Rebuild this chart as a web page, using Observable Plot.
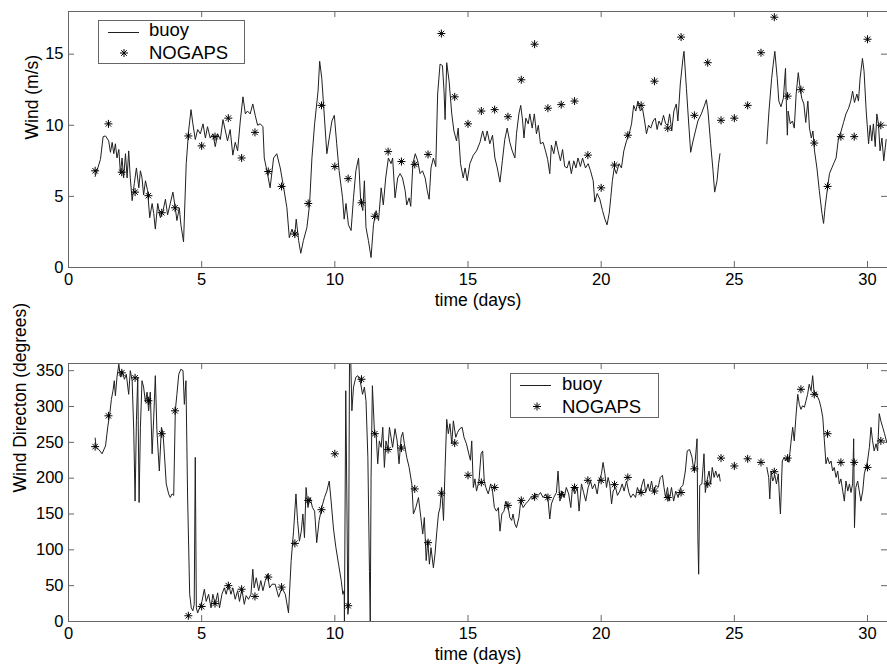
<!DOCTYPE html>
<html><head><meta charset="utf-8">
<script src="https://cdn.jsdelivr.net/npm/d3@7"></script>
<script src="https://cdn.jsdelivr.net/npm/@observablehq/plot@0.6"></script>
<style>
body{margin:0;background:#fff;}
#wrap{position:relative;width:887px;height:670px;overflow:hidden;font-family:"Liberation Sans",Arial,sans-serif;background:#fff;}
#wrap svg{display:block;}
.legend{position:absolute;overflow:visible;}
</style></head><body><div id="wrap"></div>
<script>
// ---- data ----
const xTicks = [0, 5, 10, 15, 20, 25, 30];
const speedTicks = [0, 5, 10, 15];
const dirTicks = [0, 50, 100, 150, 200, 250, 300, 350];

const nogapsT = [1,1.5,2,2.5,3,3.5,4,4.5,5,5.5,6,6.5,7,7.5,8,8.5,9,9.5,10,10.5,11,11.5,12,12.5,13,13.5,14,14.5,15,15.5,16,16.5,17,17.5,18,18.5,19,19.5,20,20.5,21,21.5,22,22.5,23,23.5,24,24.5,25,25.5,26,26.5,27,27.5,28,28.5,29,29.5,30,30.5];
const nogapsSpeed = [6.8,10.1,6.7,5.3,5.05,3.85,4.2,9.25,8.55,9.2,10.5,7.7,9.5,6.75,5.7,2.35,4.5,11.4,7.1,6.25,4.55,3.6,8.15,7.45,7.25,7.95,16.45,12.0,10.1,11.0,11.1,10.6,13.2,15.7,11.2,11.45,11.7,7.9,5.6,7.2,9.3,11.4,13.1,9.8,16.2,10.7,14.4,10.35,10.5,11.4,15.1,17.6,12.05,12.5,8.75,5.7,9.2,9.2,16.05,10.0];
const nogapsDir = [244,287,347,340,308,262,294,8,21,25,50,45,35,62,48,109,169,156,234,22,338,262,240,242,185,110,179,249,204,194,187,162,169,174,173,177,187,197,197,191,201,180,182,173,180,213,192,228,217,227,222,209,228,324,317,262,222,222,215,252];

const speedT = [1.0,1.1,1.2,1.3,1.39,1.51,1.575,1.64,1.7,1.76,1.82,1.89,1.95,2.01,2.07,2.14,2.2,2.26,2.32,2.39,2.47,2.55,2.64,2.7,2.76,2.82,2.89,2.97,3.05,3.14,3.2,3.26,3.35,3.45,3.55,3.64,3.72,3.82,3.92,4.01,4.07,4.16,4.22,4.32,4.42,4.51,4.6,4.67,4.76,4.85,4.95,5.05,5.14,5.22,5.32,5.42,5.51,5.6,5.7,5.8,5.89,5.97,6.07,6.17,6.26,6.35,6.45,6.55,6.64,6.72,6.82,6.92,7.01,7.1,7.2,7.3,7.35,7.45,7.57,7.7,7.82,7.95,8.07,8.2,8.29,8.39,8.49,8.55,8.64,8.72,8.82,8.95,9.05,9.14,9.24,9.37,9.43,9.51,9.61,9.7,9.79,9.89,9.98,10.07,10.16,10.29,10.35,10.42,10.51,10.61,10.7,10.79,10.89,10.97,11.05,11.11,11.17,11.26,11.36,11.45,11.55,11.64,11.74,11.82,11.91,12.01,12.11,12.17,12.26,12.36,12.45,12.54,12.64,12.7,12.79,12.85,12.93,13.02,13.11,13.2,13.29,13.39,13.47,13.54,13.61,13.7,13.79,13.86,13.95,14.04,14.1,14.14,14.2,14.29,14.39,14.47,14.57,14.63,14.72,14.82,14.89,14.97,15.07,15.2,15.32,15.45,15.55,15.64,15.72,15.82,15.92,16.01,16.1,16.2,16.29,16.38,16.47,16.57,16.66,16.76,16.82,16.91,16.98,17.05,17.1,17.17,17.26,17.32,17.41,17.49,17.57,17.64,17.72,17.82,17.91,17.99,18.07,18.13,18.22,18.3,18.38,18.47,18.55,18.63,18.72,18.8,18.88,18.97,19.05,19.13,19.22,19.3,19.41,19.51,19.6,19.7,19.76,19.85,19.95,20.05,20.14,20.22,20.3,20.36,20.42,20.49,20.57,20.67,20.76,20.85,20.95,21.05,21.14,21.22,21.3,21.38,21.47,21.55,21.63,21.7,21.78,21.86,21.95,22.03,22.1,22.17,22.25,22.34,22.42,22.5,22.57,22.65,22.73,22.82,22.88,22.97,23.07,23.11,23.2,23.28,23.36,23.45,23.54,23.63,23.76,23.86,23.95,24.01,24.11,24.2,24.26,24.35,24.41,24.46,25.3,26.22,26.3,26.4,26.46,26.52,26.61,26.67,26.75,26.84,26.92,26.96,26.99,27.02,27.1,27.18,27.25,27.32,27.4,27.47,27.53,27.61,27.68,27.76,27.82,27.89,27.95,28.01,28.1,28.19,28.29,28.35,28.41,28.5,28.57,28.66,28.75,28.82,28.91,29.01,29.1,29.19,29.29,29.37,29.44,29.51,29.6,29.66,29.72,29.81,29.87,29.95,30.04,30.1,30.16,30.22,30.29,30.35,30.41,30.47,30.54,30.61,30.7];
const speedV = [6.4,7.0,7.6,9.2,9.25,8.9,8.1,8.8,8.0,8.7,7.7,8.3,6.6,7.7,6.3,8.0,6.3,8.2,6.3,4.7,5.9,7.0,5.6,6.8,6.3,5.1,6.1,5.4,3.5,4.5,3.8,2.7,4.5,3.5,4.0,4.8,3.7,4.5,5.3,4.2,3.3,4.2,3.0,1.8,7.3,9.6,11.1,10.1,9.0,9.7,9.4,10.1,9.1,9.9,9.1,9.4,8.5,9.4,9.0,10.4,9.6,8.9,9.7,7.9,8.8,8.2,10.3,12.0,10.8,11.0,10.8,11.5,10.7,10.0,10.1,9.9,7.7,6.8,5.6,7.7,8.0,7.0,5.7,4.2,2.1,2.7,2.2,3.4,1.9,1.0,1.9,2.8,4.4,7.7,10.1,12.4,14.5,13.3,10.5,8.0,9.1,10.3,10.7,8.7,6.8,4.9,3.4,4.5,3.0,2.6,4.9,6.8,7.7,4.7,4.0,6.1,2.8,1.9,0.7,3.0,4.0,3.3,5.6,4.4,6.3,7.7,7.3,7.7,4.9,6.3,6.6,6.3,5.4,4.4,4.9,4.3,7.3,8.0,7.5,6.6,6.8,6.3,5.4,4.8,7.0,7.7,7.1,12.2,14.3,14.2,12.4,10.4,14.4,13.1,10.8,9.6,8.9,9.8,7.3,6.3,7.0,6.1,7.3,7.9,8.2,8.8,9.6,8.9,9.6,8.7,9.3,7.7,7.0,6.0,7.5,9.0,9.8,8.8,8.2,7.7,9.4,10.8,11.4,10.3,9.1,10.5,10.1,10.8,9.8,10.8,9.4,10.0,8.7,8.8,8.2,7.6,6.6,8.6,8.0,8.9,8.2,7.5,8.3,7.1,7.0,7.5,6.6,7.5,7.0,7.7,7.1,7.7,7.0,7.3,6.8,6.1,4.6,5.2,4.8,4.0,3.4,3.0,3.8,4.9,6.1,7.0,6.6,7.3,7.0,8.2,8.9,9.4,10.1,11.4,11.0,11.7,11.0,11.2,10.3,9.4,10.0,9.8,10.3,10.5,9.7,10.3,10.0,10.7,10.1,10.0,10.8,9.6,11.0,11.5,10.3,12.9,14.7,15.2,12.6,10.3,8.1,8.9,9.6,10.3,10.8,11.3,11.8,11.0,8.7,6.8,5.3,6.1,7.3,8.0,null,8.7,11.0,13.3,14.3,15.2,13.3,11.7,11.3,11.9,14.0,11.0,9.3,11.0,10.1,10.3,9.8,12.2,13.7,12.6,11.9,11.5,10.2,11.7,9.8,9.1,9.6,8.2,7.0,5.4,3.8,3.1,4.3,5.6,6.6,7.0,7.4,7.7,9.1,9.6,10.2,10.8,11.2,11.7,12.4,11.6,12.2,11.7,13.3,14.7,13.8,11.0,8.7,10.0,8.9,10.1,8.5,10.8,10.1,8.2,9.1,7.5,9.0];

const dirT = [1.0,1.04,1.14,1.26,1.39,1.48,1.55,1.61,1.67,1.72,1.76,1.82,1.89,1.95,2.01,2.1,2.17,2.26,2.32,2.39,2.45,2.5,2.55,2.6,2.65,2.7,2.76,2.82,2.89,2.95,3.01,3.07,3.14,3.2,3.26,3.32,3.41,3.49,3.55,3.6,3.67,3.76,3.82,3.89,3.95,4.01,4.07,4.14,4.22,4.3,4.35,4.41,4.47,4.55,4.61,4.67,4.72,4.76,4.8,4.85,4.92,5.01,5.1,5.17,5.26,5.35,5.42,5.51,5.6,5.67,5.76,5.85,5.92,6.01,6.1,6.17,6.26,6.35,6.42,6.51,6.6,6.67,6.76,6.85,6.92,6.97,7.05,7.14,7.22,7.3,7.39,7.47,7.55,7.64,7.76,7.89,8.01,8.14,8.26,8.36,8.45,8.54,8.6,8.67,8.74,8.8,8.86,8.92,8.99,9.07,9.16,9.24,9.32,9.41,9.51,9.61,9.7,9.79,9.86,9.95,10.04,10.14,10.24,10.3,10.35,10.36,10.41,10.45,10.49,10.51,10.55,10.6,10.64,10.7,10.79,10.86,10.95,11.04,11.11,11.17,11.24,11.3,11.33,11.36,11.41,11.49,11.55,11.61,11.67,11.74,11.8,11.86,11.92,11.99,12.05,12.11,12.17,12.26,12.34,12.41,12.49,12.55,12.61,12.7,12.79,12.89,12.95,13.04,13.14,13.23,13.3,13.36,13.43,13.49,13.55,13.61,13.7,13.76,13.83,13.89,13.95,14.01,14.08,14.14,14.2,14.26,14.32,14.39,14.45,14.54,14.61,14.69,14.78,14.85,14.94,15.03,15.09,15.14,15.2,15.26,15.32,15.41,15.49,15.55,15.61,15.67,15.76,15.85,15.92,15.99,16.07,16.14,16.2,16.27,16.35,16.42,16.51,16.57,16.64,16.69,16.76,16.82,16.91,16.98,17.07,17.16,17.26,17.35,17.45,17.54,17.64,17.72,17.82,17.92,18.01,18.07,18.13,18.22,18.32,18.38,18.45,18.53,18.61,18.69,18.78,18.86,18.92,19.01,19.1,19.17,19.26,19.34,19.42,19.51,19.6,19.67,19.76,19.85,19.92,20.01,20.07,20.14,20.2,20.26,20.32,20.39,20.45,20.54,20.61,20.7,20.79,20.86,20.95,21.04,21.11,21.2,21.29,21.36,21.45,21.54,21.6,21.67,21.76,21.82,21.89,21.97,22.05,22.14,22.22,22.3,22.36,22.42,22.49,22.55,22.64,22.72,22.8,22.89,22.98,23.07,23.16,23.23,23.32,23.41,23.48,23.53,23.6,23.63,23.66,23.7,23.78,23.86,23.91,23.97,24.05,24.11,24.17,24.24,24.3,24.37,24.43,24.47,25.3,26.22,26.29,26.33,26.38,26.44,26.52,26.58,26.65,26.7,26.73,26.8,26.87,26.93,26.99,27.05,27.12,27.19,27.25,27.31,27.38,27.44,27.5,27.56,27.63,27.69,27.75,27.81,27.88,27.94,28.0,28.06,28.13,28.19,28.25,28.32,28.38,28.44,28.5,28.57,28.63,28.69,28.75,28.82,28.88,28.94,29.0,29.07,29.13,29.19,29.26,29.32,29.38,29.44,29.48,29.51,29.56,29.63,29.69,29.75,29.82,29.88,29.94,30.0,30.07,30.13,30.19,30.25,30.32,30.38,30.44,30.5,30.57,30.64,30.72];
const dirV = [256,243,240,234,245,273,290,310,322,336,315,341,359,341,350,338,345,317,350,336,266,168,280,341,166,271,336,327,306,320,294,320,234,285,343,266,210,271,262,234,192,178,173,178,176,294,317,345,352,350,303,336,178,38,19,15,24,229,19,12,19,28,45,28,38,19,38,24,40,19,38,47,38,52,38,47,31,43,28,45,24,36,31,38,73,47,61,43,57,43,57,66,47,52,52,34,47,38,12,85,126,178,141,112,126,150,117,187,159,173,159,154,110,141,159,173,182,196,168,129,103,80,57,38,43,0,322,178,10,19,360,360,294,327,341,343,336,317,327,308,229,70,0,201,329,262,262,220,252,243,271,215,252,240,271,257,243,269,252,220,257,264,248,229,215,192,150,159,173,145,122,145,85,113,80,103,75,94,126,150,159,187,141,215,282,262,276,248,280,257,264,269,271,257,248,234,225,252,187,199,182,196,234,238,196,187,178,192,182,159,154,159,126,150,154,168,159,145,141,150,136,131,145,168,159,164,168,173,171,178,176,180,173,178,168,143,164,173,180,210,168,182,173,187,178,159,187,178,187,154,192,180,168,187,196,185,192,178,196,206,222,206,187,201,192,164,182,187,176,182,192,182,196,180,173,178,173,187,178,192,199,180,192,182,196,180,190,187,201,204,187,173,187,168,187,168,182,173,187,190,210,238,240,229,210,224,255,117,66,190,192,234,180,196,210,192,215,201,210,201,206,196,null,215,201,171,210,196,204,192,206,168,150,224,229,224,229,222,248,271,252,285,317,303,296,301,299,308,317,331,322,343,317,320,313,308,299,285,252,220,229,220,224,210,215,201,210,192,199,182,168,196,182,192,180,192,255,131,187,196,182,168,182,206,215,224,243,271,252,238,248,238,290,280,271,262,250];

const xLabel = "time (days)";
const speedLabel = "Wind (m/s)";
const dirLabel = "Wind Directon (degrees)";
const seriesNames = ["buoy", "NOGAPS"];

// ---- drawing ----
const W = 887, ML = 68, MR = 0;
const FONT = "Liberation Sans, Arial, Helvetica, sans-serif";
const LINE = "#202020", FRAME = "#666";

function panel(o) {
  const innerH = o.height - o.mt - o.mb;
  const innerW = W - ML - MR;
  const buoy = o.t.map((t, i) => ({t, v: o.v[i]}));
  const nog = nogapsT.map((t, i) => ({t, v: o.nog[i]}));
  return Plot.plot({
    width: W, height: o.height,
    marginLeft: ML, marginRight: MR, marginTop: o.mt, marginBottom: o.mb,
    style: {fontFamily: FONT, color: "#000", background: "#fff", overflow: "visible"},
    x: {domain: [0, 30.75]},
    y: {domain: o.yDomain},
    marks: [
      Plot.line(buoy, {x: "t", y: "v", stroke: LINE, strokeWidth: 1}),
      Plot.dot(nog, {x: "t", y: "v", symbol: "plus", r: 2.7, stroke: "#000", strokeWidth: 1}),
      Plot.dot(nog, {x: "t", y: "v", symbol: "times", r: 2.6, stroke: "#000", strokeWidth: 1}),
      Plot.frame({stroke: FRAME}),
      Plot.ruleX(xTicks, {x: d => d, insetTop: innerH - 6, stroke: FRAME}),
      Plot.ruleX(xTicks, {x: d => d, insetBottom: innerH - 6, stroke: FRAME}),
      Plot.ruleY(o.yTicks, {y: d => d, insetRight: innerW - 6, stroke: FRAME}),
      Plot.ruleY(o.yTicks, {y: d => d, insetLeft: innerW - 6, stroke: FRAME}),
      Plot.axisX(xTicks, {tickSize: 0, tickPadding: 6, fontSize: 16.5, label: null}),
      Plot.axisY(o.yTicks, {tickSize: 0, tickPadding: 5, fontSize: 16.5, label: null}),
      Plot.text([xLabel], {frameAnchor: "bottom", dy: 38, text: d => d, fontSize: 17.5}),
      Plot.text([o.yLabel], {frameAnchor: "left", dx: o.ylabelDx, rotate: -90, text: d => d, fontSize: 17.5})
    ]
  });
}

const wrap = document.getElementById("wrap");
wrap.appendChild(panel({t: speedT, v: speedV, nog: nogapsSpeed, yDomain: [0, 18], yTicks: speedTicks,
  yLabel: speedLabel, ylabelDx: -36, height: 330, mt: 11, mb: 63}));
wrap.appendChild(panel({t: dirT, v: dirV, nog: nogapsDir, yDomain: [0, 360], yTicks: dirTicks,
  yLabel: dirLabel, ylabelDx: -48, height: 340, mt: 33, mb: 49}));

// ---- legends (overlaid inside each panel) ----
function legend(left, top, w, h, lineY, textX, buoyBase, nogBase, starX, starY) {
  const ns = "http://www.w3.org/2000/svg";
  const s = document.createElementNS(ns, "svg");
  s.setAttribute("class", "legend");
  s.setAttribute("width", w); s.setAttribute("height", h);
  s.style.left = left + "px"; s.style.top = top + "px";
  const starArms = `M${starX-4},${starY}H${starX+4}M${starX},${starY-4}V${starY+4}M${starX-2.8},${starY-2.8}L${starX+2.8},${starY+2.8}M${starX-2.8},${starY+2.8}L${starX+2.8},${starY-2.8}`;
  s.innerHTML = `<rect x="0.5" y="0.5" width="${w-1}" height="${h-1}" fill="#fff" stroke="${FRAME}"/>
    <line x1="10" x2="41" y1="${lineY}" y2="${lineY}" stroke="${LINE}" stroke-width="1"/>
    <path d="${starArms}" stroke="#000" stroke-width="1" fill="none"/>
    <text x="${textX}" y="${buoyBase}" font-family="${FONT}" font-size="18.5">${seriesNames[0]}</text>
    <text x="${textX}" y="${nogBase}" font-family="${FONT}" font-size="18.5">${seriesNames[1]}</text>`;
  wrap.appendChild(s);
}
legend(98, 20, 147, 44, 12.5, 51, 16, 39, 26, 33);
legend(510, 373, 149, 45, 12.5, 52, 17, 40, 27, 33.5);
</script>
</body></html>
